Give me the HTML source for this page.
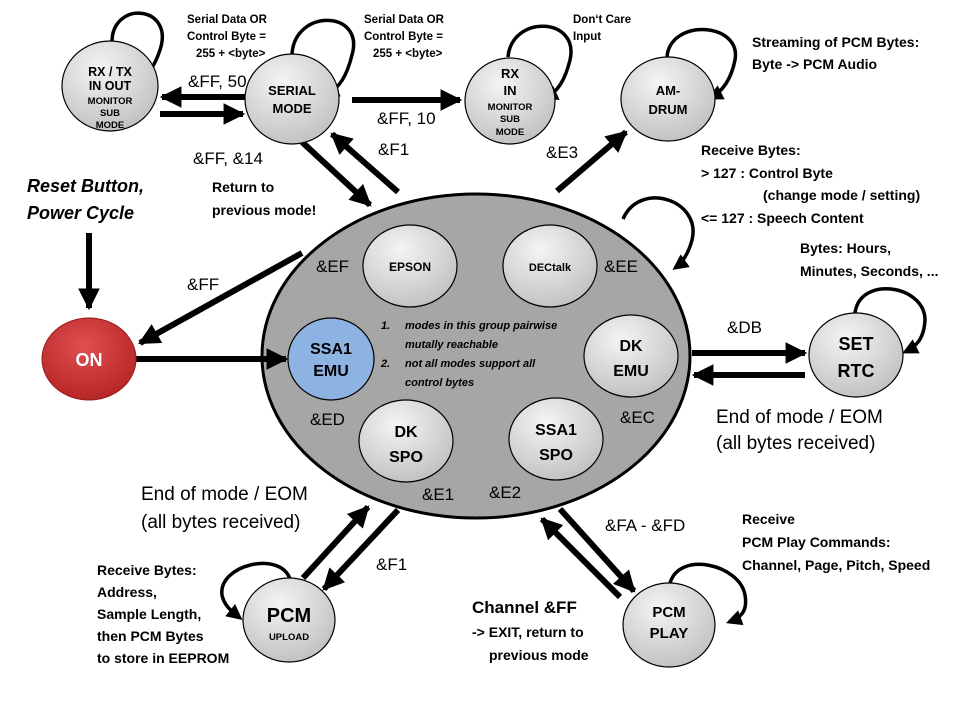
<!DOCTYPE html>
<html><head><meta charset="utf-8"><style>
html,body{margin:0;padding:0;background:#fff;}
svg{display:block;}
text{font-family:"Liberation Sans",sans-serif;}
.b{font-weight:bold;}
</style></head><body>
<svg width="960" height="720" viewBox="0 0 960 720" xmlns="http://www.w3.org/2000/svg">
<defs>
<radialGradient id="g" cx="0.4" cy="0.3" r="0.8">
<stop offset="0" stop-color="#f4f4f4"/><stop offset="1" stop-color="#bcbcbc"/></radialGradient>
<radialGradient id="r" cx="0.45" cy="0.35" r="0.75">
<stop offset="0" stop-color="#e05050"/><stop offset="1" stop-color="#b02020"/></radialGradient>
<marker id="a" viewBox="0 0 10 10" refX="9" refY="5" markerWidth="3.6" markerHeight="3.6" orient="auto" markerUnits="strokeWidth"><path d="M0,0 L10,5 L0,10 z" fill="#000"/></marker>
<marker id="s" viewBox="0 0 10 10" refX="8" refY="5" markerWidth="4.5" markerHeight="4.5" orient="auto" markerUnits="strokeWidth"><path d="M0,0 L10,5 L0,10 z" fill="#000"/></marker>
</defs>

<ellipse cx="476" cy="356" rx="214" ry="162" fill="#a6a6a6" stroke="#000" stroke-width="3"/>

<g stroke="#000" stroke-width="6" fill="none" marker-end="url(#a)">
<line x1="245" y1="97" x2="162" y2="97"/>
<line x1="160" y1="114" x2="243" y2="114"/>
<line x1="352" y1="100" x2="460" y2="100"/>
<line x1="302" y1="142" x2="370" y2="205"/>
<line x1="398" y1="192" x2="332" y2="134"/>
<line x1="557" y1="191" x2="626" y2="132"/>
<line x1="302" y1="253" x2="140" y2="343"/>
<line x1="136" y1="359" x2="286" y2="359"/>
<line x1="89" y1="233" x2="89" y2="308"/>
<line x1="692" y1="353" x2="805" y2="353"/>
<line x1="805" y1="375" x2="694" y2="375"/>
<line x1="303" y1="578" x2="368" y2="507"/>
<line x1="398" y1="510" x2="324" y2="589"/>
<line x1="560" y1="509" x2="634" y2="591"/>
<line x1="620" y1="597" x2="542" y2="519"/>
</g>

<g stroke="#000" stroke-width="3.5" fill="none" marker-end="url(#s)">
<path d="M112,42 C112,0 175,5 160,50 C154,68 146,78 135,86"/>
<path d="M292,54 C295,8 365,10 352,55 C347,75 340,88 326,95"/>
<path d="M508,57 C512,14 580,17 570,60 C565,80 558,92 545,98"/>
<path d="M667,57 C670,18 742,22 735,60 C731,80 722,92 710,98"/>
<path d="M623,219 C640,180 702,200 692,240 C688,255 682,263 675,268"/>
<path d="M855,313 C860,275 925,285 925,320 C924,340 915,347 905,352"/>
<path d="M290,579 C280,550 218,565 222,595 C224,605 230,610 240,618"/>
<path d="M670,583 C680,550 740,565 745,595 C748,612 740,618 729,622"/>
</g>

<g stroke="#000" stroke-width="1.2">
<ellipse cx="110" cy="86" rx="48" ry="45" fill="url(#g)"/>
<ellipse cx="292" cy="99" rx="47" ry="45" fill="url(#g)"/>
<ellipse cx="510" cy="101" rx="45" ry="43" fill="url(#g)"/>
<ellipse cx="668" cy="99" rx="47" ry="42" fill="url(#g)"/>
<ellipse cx="856" cy="355" rx="47" ry="42" fill="url(#g)"/>
<ellipse cx="289" cy="620" rx="46" ry="42" fill="url(#g)"/>
<ellipse cx="669" cy="625" rx="46" ry="42" fill="url(#g)"/>
<ellipse cx="410" cy="266" rx="47" ry="41" fill="url(#g)"/>
<ellipse cx="550" cy="266" rx="47" ry="41" fill="url(#g)"/>
<ellipse cx="331" cy="359" rx="43" ry="41" fill="#8db3e2"/>
<ellipse cx="631" cy="356" rx="47" ry="41" fill="url(#g)"/>
<ellipse cx="406" cy="441" rx="47" ry="41" fill="url(#g)"/>
<ellipse cx="556" cy="439" rx="47" ry="41" fill="url(#g)"/>
</g>
<ellipse cx="89" cy="359" rx="47" ry="41" fill="url(#r)" stroke="#9a1a1a" stroke-width="1"/>

<g class="b" text-anchor="middle" fill="#000">
<text x="110" y="76" font-size="12.5">RX / TX</text>
<text x="110" y="90" font-size="12.5">IN OUT</text>
<text x="110" y="104" font-size="9.5">MONITOR</text>
<text x="110" y="116" font-size="9.5">SUB</text>
<text x="110" y="128" font-size="9.5">MODE</text>
<text x="292" y="95" font-size="13">SERIAL</text>
<text x="292" y="113" font-size="13">MODE</text>
<text x="510" y="78" font-size="13">RX</text>
<text x="510" y="95" font-size="13">IN</text>
<text x="510" y="110" font-size="9.5">MONITOR</text>
<text x="510" y="122" font-size="9.5">SUB</text>
<text x="510" y="135" font-size="9.5">MODE</text>
<text x="668" y="95" font-size="13">AM-</text>
<text x="668" y="114" font-size="13">DRUM</text>
<text x="89" y="366" font-size="18" fill="#fff">ON</text>
<text x="856" y="350" font-size="18">SET</text>
<text x="856" y="377" font-size="18">RTC</text>
<text x="289" y="622" font-size="20">PCM</text>
<text x="289" y="640" font-size="9.5">UPLOAD</text>
<text x="669" y="617" font-size="15">PCM</text>
<text x="669" y="638" font-size="15">PLAY</text>
<text x="410" y="271" font-size="12">EPSON</text>
<text x="550" y="271" font-size="11">DECtalk</text>
<text x="331" y="354" font-size="16">SSA1</text>
<text x="331" y="376" font-size="16">EMU</text>
<text x="631" y="351" font-size="16">DK</text>
<text x="631" y="376" font-size="16">EMU</text>
<text x="406" y="437" font-size="16">DK</text>
<text x="406" y="462" font-size="16">SPO</text>
<text x="556" y="435" font-size="16">SSA1</text>
<text x="556" y="460" font-size="16">SPO</text>
</g>

<g class="b" font-style="italic" font-size="11" fill="#000">
<text x="381" y="329">1.</text><text x="405" y="329">modes in this group pairwise</text>
<text x="405" y="348">mutally reachable</text>
<text x="381" y="367">2.</text><text x="405" y="367">not all modes support all</text>
<text x="405" y="386">control bytes</text>
</g>

<g font-size="17" fill="#000">
<text x="188" y="87">&amp;FF, 50</text>
<text x="377" y="124">&amp;FF, 10</text>
<text x="193" y="164">&amp;FF, &amp;14</text>
<text x="378" y="155">&amp;F1</text>
<text x="546" y="158">&amp;E3</text>
<text x="187" y="290">&amp;FF</text>
<text x="316" y="272">&amp;EF</text>
<text x="604" y="272">&amp;EE</text>
<text x="310" y="425">&amp;ED</text>
<text x="620" y="423">&amp;EC</text>
<text x="422" y="500">&amp;E1</text>
<text x="489" y="498">&amp;E2</text>
<text x="727" y="333">&amp;DB</text>
<text x="376" y="570">&amp;F1</text>
<text x="605" y="531">&amp;FA - &amp;FD</text>
<text x="716" y="423" font-size="19">End of mode / EOM</text>
<text x="716" y="449" font-size="19">(all bytes received)</text>
<text x="141" y="500" font-size="19">End of mode / EOM</text>
<text x="141" y="528" font-size="19">(all bytes received)</text>
</g>

<g class="b" fill="#000">
<text x="187" y="23" font-size="11.5">Serial Data OR</text>
<text x="187" y="40" font-size="11.5">Control Byte =</text>
<text x="196" y="57" font-size="11.5">255 + &lt;byte&gt;</text>
<text x="364" y="23" font-size="11.5">Serial Data OR</text>
<text x="364" y="40" font-size="11.5">Control Byte =</text>
<text x="373" y="57" font-size="11.5">255 + &lt;byte&gt;</text>
<text x="573" y="23" font-size="11.5">Don‘t Care</text>
<text x="573" y="40" font-size="11.5">Input</text>
<text x="752" y="47" font-size="14">Streaming of PCM Bytes:</text>
<text x="752" y="69" font-size="14">Byte -&gt; PCM Audio</text>
<text x="701" y="155" font-size="14">Receive Bytes:</text>
<text x="701" y="178" font-size="14">&gt; 127   : Control Byte</text>
<text x="763" y="200" font-size="14">(change mode / setting)</text>
<text x="701" y="223" font-size="14">&lt;= 127 : Speech Content</text>
<text x="800" y="253" font-size="14">Bytes: Hours,</text>
<text x="800" y="276" font-size="14">Minutes, Seconds, ...</text>
<text x="212" y="192" font-size="14">Return to</text>
<text x="212" y="215" font-size="14">previous mode!</text>
<text x="27" y="192" font-size="18" font-style="italic">Reset Button,</text>
<text x="27" y="219" font-size="18" font-style="italic">Power Cycle</text>
<text x="97" y="575" font-size="14">Receive Bytes:</text>
<text x="97" y="597" font-size="14">Address,</text>
<text x="97" y="619" font-size="14">Sample Length,</text>
<text x="97" y="641" font-size="14">then PCM Bytes</text>
<text x="97" y="663" font-size="14">to store in EEPROM</text>
<text x="742" y="524" font-size="14">Receive</text>
<text x="742" y="547" font-size="14">PCM Play Commands:</text>
<text x="742" y="570" font-size="14">Channel, Page, Pitch, Speed</text>
<text x="472" y="613" font-size="17">Channel &amp;FF</text>
<text x="472" y="637" font-size="14">-&gt; EXIT, return to</text>
<text x="489" y="660" font-size="14">previous mode</text>
</g>
</svg>
</body></html>
